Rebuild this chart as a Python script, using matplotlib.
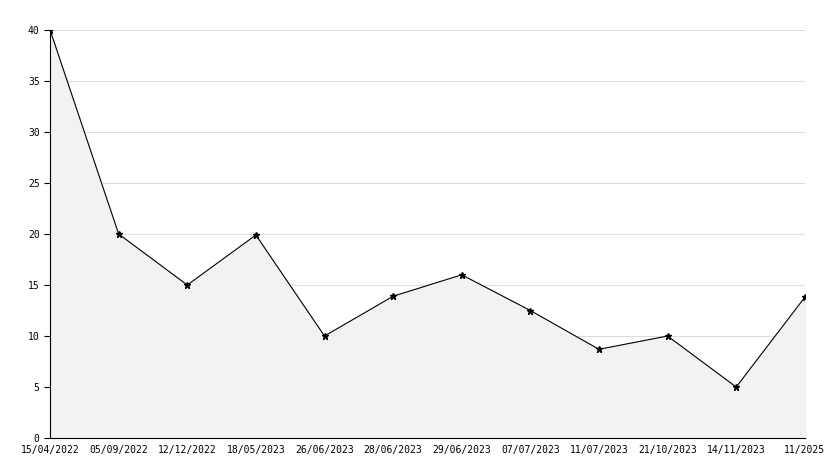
import matplotlib
matplotlib.use("Agg")
import matplotlib.pyplot as plt
from matplotlib.ticker import MultipleLocator

dates = ["15/04/2022", "05/09/2022", "12/12/2022", "18/05/2023", "26/06/2023",
         "28/06/2023", "29/06/2023", "07/07/2023", "11/07/2023", "21/10/2023",
         "14/11/2023", "11/2025"]
valeurs = [40, 20, 15, 19.9, 10, 13.9, 16, 12.5, 8.7, 10, 5, 13.8]

plt.rcParams["font.family"] = "DejaVu Sans Mono"
fig = plt.figure(figsize=(8.34, 4.68), dpi=100)
ax = fig.add_axes([0.06, 0.064, 0.905, 0.872])
x = list(range(len(valeurs)))
ax.fill_between(x, valeurs, 0, color="#f2f2f2", zorder=1)
ax.plot(x, valeurs, color="black", linewidth=0.8, marker="*", markersize=5, zorder=3)

ax.set_xlim(0, len(valeurs) - 1)
ax.set_ylim(0, 40)
ax.set_xticks(x)
ax.set_xticklabels(dates, fontsize=7)
ax.yaxis.set_major_locator(MultipleLocator(5))
ax.yaxis.set_minor_locator(MultipleLocator(1))
ax.tick_params(axis="y", which="major", labelsize=7, direction="out", length=4)
ax.tick_params(axis="y", which="minor", direction="in", length=3)
ax.tick_params(axis="x", direction="in", length=5, pad=5)
ax.grid(axis="y", color="#dddddd", linewidth=0.8, zorder=0)
ax.spines["top"].set_visible(False)
ax.spines["right"].set_visible(False)
ax.set_axisbelow(True)
plt.savefig("out.png", dpi=100)
plt.close()
